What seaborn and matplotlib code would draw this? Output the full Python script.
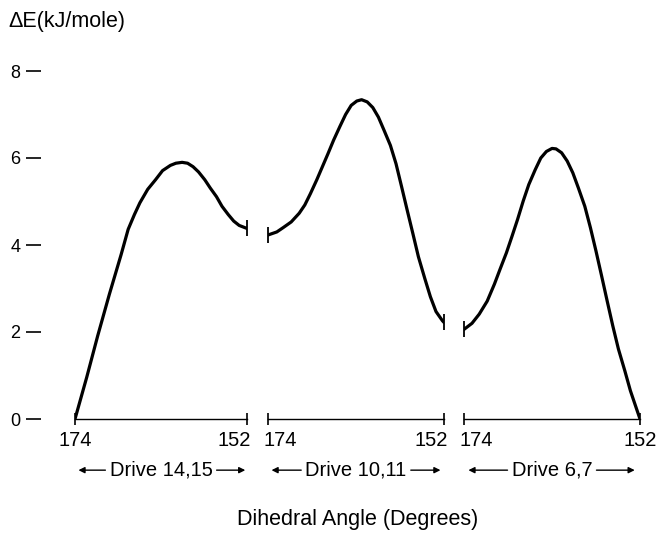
import numpy as np
import matplotlib
matplotlib.use("Agg")
from matplotlib import pyplot as plt
import seaborn as sns

# ---- data (dihedral angle in degrees, energy in kJ/mole) ---- #
drive_names = ["Drive 14,15", "Drive 10,11", "Drive 6,7"]

angle_1415 = [174.0, 172.5, 171.1, 169.6, 168.1, 167.2, 166.4, 165.7, 164.7, 163.7, 162.8, 161.8,
              161.1, 160.3, 159.6, 158.9, 158.2, 157.4, 156.7, 155.9, 155.2, 154.4, 153.7, 153.0, 152.0]
energy_1415 = [0.00, 0.96, 1.91, 2.87, 3.78, 4.36, 4.70, 4.97, 5.28, 5.50, 5.71, 5.83,
               5.88, 5.90, 5.88, 5.80, 5.68, 5.50, 5.31, 5.11, 4.89, 4.70, 4.55, 4.45, 4.38]

angle_1011 = [174.0, 172.9, 172.1, 171.1, 170.1, 169.4, 168.7, 167.9, 167.2, 166.5, 165.8, 165.0,
              164.3, 163.6, 162.9, 162.3, 161.6, 160.9, 160.2, 159.5, 158.7, 158.0, 157.3, 156.6,
              155.9, 155.2, 154.4, 153.7, 153.0, 152.2, 152.0]
energy_1011 = [4.23, 4.30, 4.40, 4.53, 4.73, 4.92, 5.18, 5.50, 5.80, 6.10, 6.41, 6.73,
               7.00, 7.21, 7.31, 7.34, 7.29, 7.16, 6.94, 6.64, 6.29, 5.87, 5.34, 4.80,
               4.27, 3.73, 3.23, 2.81, 2.47, 2.26, 2.22]

angle_67 = [174.0, 173.0, 172.1, 171.1, 170.2, 169.5, 168.7, 168.0, 167.3, 166.6, 165.9, 165.1,
            164.4, 163.7, 163.0, 162.5, 161.8, 161.1, 160.4, 159.7, 158.9, 158.2, 157.5, 156.8,
            156.1, 155.4, 154.7, 153.9, 153.2, 152.5, 152.0]
energy_67 = [2.06, 2.20, 2.41, 2.71, 3.10, 3.44, 3.82, 4.20, 4.59, 5.01, 5.39, 5.73,
             6.00, 6.15, 6.22, 6.21, 6.12, 5.93, 5.66, 5.31, 4.89, 4.40, 3.86, 3.29,
             2.71, 2.14, 1.61, 1.11, 0.65, 0.27, 0.00]

x_ticks = [174, 152]
y_ticks = [0, 2, 4, 6, 8]

segments = [(angle_1415, energy_1415), (angle_1011, energy_1011), (angle_67, energy_67)]
# -------------------------------------------------------------------------------- #

sns.set_theme(style="white")
plt.rcParams["font.family"] = ["Liberation Sans", "DejaVu Sans"]
plt.rcParams["text.color"] = "black"

W, H = 658, 538
fig = plt.figure(figsize=(W / 100, H / 100), dpi=100)
fig.patch.set_facecolor("white")

lefts = [75, 268, 464]
widths = [172, 176, 176]
bottom, height = (H - 419) / H, 348 / H
arrow_ends = [(0.02, 0.99), (0.02, 0.98), (0.025, 0.97)]
# alignment of the end labels so that "152 174" sit side by side at the breaks
label_ha = [("center", "right"), ("left", "right"), ("left", "center")]
label_dx = [(0, 3), (-3, 3), (-3, 0)]

for i, ((ang, en), name) in enumerate(zip(segments, drive_names)):
    ax = fig.add_axes([lefts[i] / W, bottom, widths[i] / W, height])
    ax.set_facecolor("none")
    sns.lineplot(x=ang, y=en, ax=ax, color="black", linewidth=2.3, estimator=None, sort=True)
    # break marks on the curve ends between drives
    if i > 0:
        ax.plot([ang[0]], [en[0]], marker="|", ms=12, mew=1.3, color="black", clip_on=False)
    if i < 2:
        ax.plot([ang[-1]], [en[-1]], marker="|", ms=12, mew=1.3, color="black", clip_on=False)

    ax.set_xlim(174, 152)
    ax.set_ylim(0, 8)
    for s in ["top", "right"]:
        ax.spines[s].set_visible(False)
    ax.spines["bottom"].set_linewidth(1.0)
    ax.spines["bottom"].set_color("black")
    ax.set_xticks(x_ticks)
    ax.set_xticklabels([])
    ax.tick_params(axis="x", direction="inout", length=9, width=1.2, color="black", bottom=True)
    for t, ha, dx in zip(x_ticks, label_ha[i], label_dx[i]):
        ax.annotate(str(t), xy=(t, 0), xycoords=("data", "axes fraction"),
                    xytext=(dx, -9), textcoords="offset points",
                    ha=ha, va="top", fontsize=14.5, color="black", annotation_clip=False)

    if i == 0:
        ax.spines["left"].set_position(("outward", 24.5))
        ax.spines["left"].set_color("none")
        ax.set_yticks(y_ticks)
        ax.tick_params(axis="y", direction="out", length=11, width=1.2, color="black",
                       labelcolor="black", labelsize=13, pad=4, left=True)
    else:
        ax.spines["left"].set_visible(False)
        ax.set_yticks([])
    ax.set_xlabel("")
    ax.set_ylabel("")

    yd = -0.147
    txt = ax.text(0.5, yd, name, transform=ax.transAxes, ha="center", va="center",
                  fontsize=14.5, color="black")
    aprops = dict(arrowstyle="-|>", color="black", lw=1.0, shrinkA=3, shrinkB=0, mutation_scale=9)
    ax.annotate("", xy=(arrow_ends[i][0], yd), xycoords="axes fraction",
                xytext=(0, 0.5), textcoords=txt, arrowprops=aprops)
    ax.annotate("", xy=(arrow_ends[i][1], yd), xycoords="axes fraction",
                xytext=(1, 0.5), textcoords=txt, arrowprops=aprops)

fig.text(8 / W, 1 - 22 / H, "ΔE(kJ/mole)", ha="left", va="center", fontsize=15.5)
fig.text(358 / W, 1 - 520 / H, "Dihedral Angle (Degrees)", ha="center", va="center", fontsize=15.5)

fig.savefig("out.png", dpi=100, facecolor="white")
